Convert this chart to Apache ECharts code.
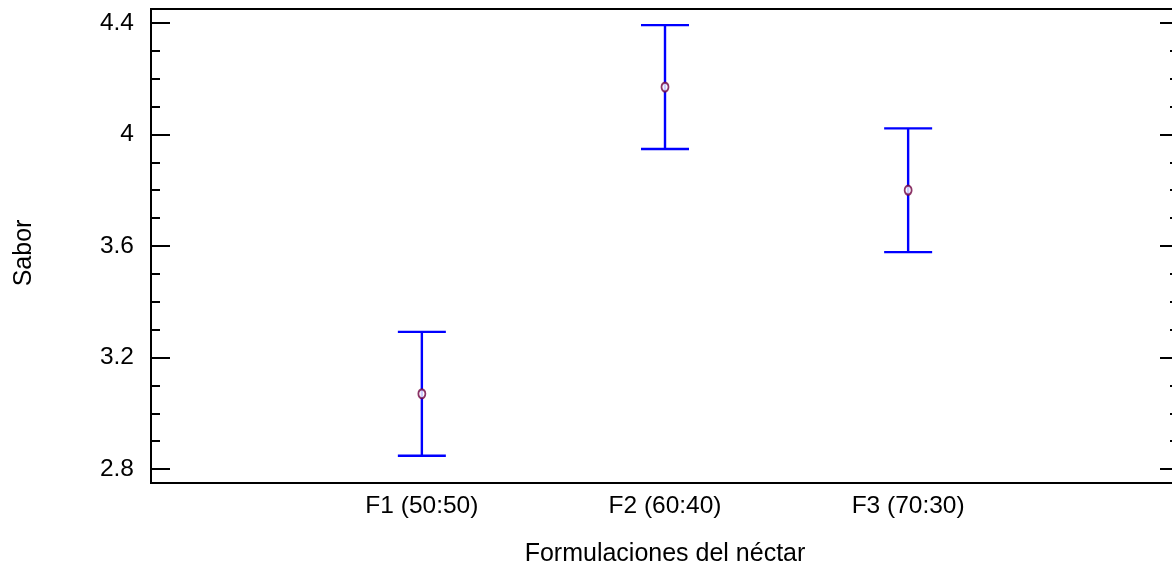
<!DOCTYPE html>
<html>
<head>
<meta charset="utf-8">
<script src="https://cdn.jsdelivr.net/npm/echarts@6/dist/echarts.min.js"></script>
<style>
  html, body { margin: 0; padding: 0; background: #fff; }
  #chart { width: 1172px; height: 569px; }
</style>
</head>
<body>
<div id="chart"></div>
<script>
// datos
const categories = ['F1 (50:50)', 'F2 (60:40)', 'F3 (70:30)']
const means = [3.07, 4.17, 3.80]
const lower = [2.848, 3.948, 3.578]
const upper = [3.292, 4.392, 4.022]
const yTicks = [2.8, 3.2, 3.6, 4.0, 4.4]
const yMinorTicks = [2.9, 3.0, 3.1, 3.3, 3.4, 3.5, 3.7, 3.8, 3.9, 4.1, 4.2, 4.3]

const FONT = 'Liberation Sans, Arial, sans-serif'
const chart = echarts.init(document.getElementById('chart'))

// eje y: marcas grandes y chicas, a izquierda y derecha
function yAxisDef (pos, ticks, len, labels) {
  return {
    type: 'value',
    position: pos,
    min: 2.75,
    max: 4.45,
    axisLine: { show: false, onZero: false },
    splitLine: { show: false },
    axisTick: {
      show: true,
      inside: true,
      length: len,
      customValues: ticks,
      lineStyle: { color: '#000', width: 2 }
    },
    axisLabel: {
      show: labels,
      customValues: ticks,
      inside: false,
      margin: 17,
      color: '#000',
      fontSize: 24.5,
      fontFamily: FONT
    }
  }
}

const option = {
  animation: false,
  backgroundColor: '#fff',
  grid: {
    left: 151,
    top: 9,
    width: 1028,
    height: 474,
    outerBoundsMode: 'none',
    containLabel: false,
    show: true,
    borderColor: '#000',
    borderWidth: 2
  },
  xAxis: {
    type: 'value',
    min: -0.114,
    max: 4.114,
    name: 'Formulaciones del néctar',
    nameLocation: 'middle',
    nameGap: 59,
    nameTextStyle: { color: '#000', fontSize: 25, fontFamily: FONT },
    axisLine: { show: false, onZero: false },
    axisTick: { show: false },
    splitLine: { show: false },
    axisLabel: {
      customValues: [1, 2, 3],
      margin: 11,
      color: '#000',
      fontSize: 24.5,
      fontFamily: FONT,
      formatter: v => categories[Math.round(v) - 1] || ''
    }
  },
  yAxis: [
    yAxisDef('left', yTicks, 19, true),
    yAxisDef('left', yMinorTicks, 9, false),
    yAxisDef('right', yTicks, 19, false),
    yAxisDef('right', yMinorTicks, 9, false)
  ],
  graphic: [
    {
      type: 'text',
      x: 24,
      y: 253,
      rotation: Math.PI / 2,
      style: {
        text: 'Sabor',
        fill: '#000',
        fontSize: 25,
        fontFamily: FONT,
        textAlign: 'center',
        textVerticalAlign: 'middle'
      }
    }
  ],
  series: [
    {
      type: 'custom',
      xAxisIndex: 0,
      yAxisIndex: 0,
      data: categories.map((c, i) => [i + 1, lower[i], upper[i]]),
      encode: { x: 0, y: [1, 2] },
      renderItem (params, api) {
        const x = api.value(0)
        const lo = api.coord([x, api.value(1)])
        const hi = api.coord([x, api.value(2)])
        const hw = 24
        const st = { stroke: '#0000ff', lineWidth: 2.4 }
        return {
          type: 'group',
          children: [
            { type: 'line', shape: { x1: lo[0], y1: lo[1], x2: hi[0], y2: hi[1] }, style: st },
            { type: 'line', shape: { x1: lo[0] - hw, y1: lo[1], x2: lo[0] + hw, y2: lo[1] }, style: st },
            { type: 'line', shape: { x1: hi[0] - hw, y1: hi[1], x2: hi[0] + hw, y2: hi[1] }, style: st }
          ]
        }
      },
      z: 2
    },
    {
      type: 'scatter',
      xAxisIndex: 0,
      yAxisIndex: 0,
      data: means.map((m, i) => [i + 1, m]),
      symbol: 'circle',
      symbolSize: [7, 9],
      itemStyle: { color: '#ffffff', borderColor: '#6e0040', borderWidth: 2 },
      z: 3
    }
  ]
}
chart.setOption(option)
</script>
</body>
</html>
